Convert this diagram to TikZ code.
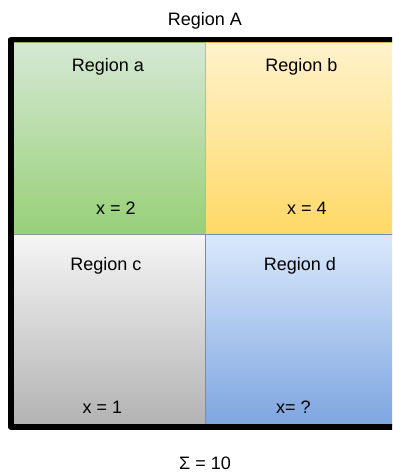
\documentclass[tikz,border=0pt]{standalone}
\usepackage{fontspec}
\setmainfont{Liberation Sans}
\usetikzlibrary{positioning}
\definecolor{greentop}{HTML}{D5E8D4}
\definecolor{greenbot}{HTML}{97D077}
\definecolor{greenline}{HTML}{82B366}
\definecolor{yellowtop}{HTML}{FFF2CC}
\definecolor{yellowbot}{HTML}{FFD966}
\definecolor{yellowline}{HTML}{D6B656}
\definecolor{graytop}{HTML}{F5F5F5}
\definecolor{graybot}{HTML}{B3B3B3}
\definecolor{grayline}{HTML}{666666}
\definecolor{bluetop}{HTML}{DAE8FC}
\definecolor{bluebot}{HTML}{7EA6E0}
\definecolor{blueline}{HTML}{6C8EBF}
\tikzset{
  every picture/.style={line join=round},
  cell/.style={rectangle, anchor=north west, inner sep=0pt, outer sep=0pt, line width=1pt},
  frame/.style={line width=5.5pt, draw=black},
  lbl/.style={anchor=base, inner sep=0pt, font=\fontsize{18}{21}\selectfont},
}

\begin{document}
\begin{tikzpicture}[x=1pt,y=-1pt]
\useasboundingbox (0,0) rectangle (392,473);
\clip (0,0) rectangle (392,473);
% the four regions
\node[cell, draw=greenline, top color=greentop, bottom color=greenbot,
  minimum width=191.5pt, minimum height=191.5pt] (cella) at (13.5,42.5) {};
\node[cell, draw=yellowline, top color=yellowtop, bottom color=yellowbot,
  minimum width=195pt, minimum height=191.5pt] (cellb) at (205,42.5) {};
\node[cell, draw=grayline!70, top color=graytop, bottom color=graybot,
  minimum width=191.5pt, minimum height=190pt] (cellc) at (13.5,234) {};
\node[cell, draw=blueline, top color=bluetop, bottom color=bluebot,
  minimum width=195pt, minimum height=190pt] (celld) at (205,234) {};
% outer frame
\draw[frame] ([xshift=-2.75pt,yshift=2.75pt]cella.north west) rectangle ([xshift=2.75pt,yshift=-2.75pt]celld.south east);
% labels
\node[lbl] (titleA) at (205,26) {Region A};
\node[lbl] (namea) at (108,71.5) {Region a};
\node[lbl] (nameb) at (301.5,71.5) {Region b};
\node[lbl] (vala) at (116,214.5) {x = 2};
\node[lbl] (valb) at (307,214.5) {x = 4};
\node[lbl] (namec) at (106,270) {Region c};
\node[lbl] (named) at (300,270) {Region d};
\node[lbl] (valc) at (102.5,413) {x = 1};
\node[lbl] (vald) at (293.5,413) {x= ?};
\node[lbl] (total) at (205,469) {Σ = 10};
\end{tikzpicture}
\end{document}
